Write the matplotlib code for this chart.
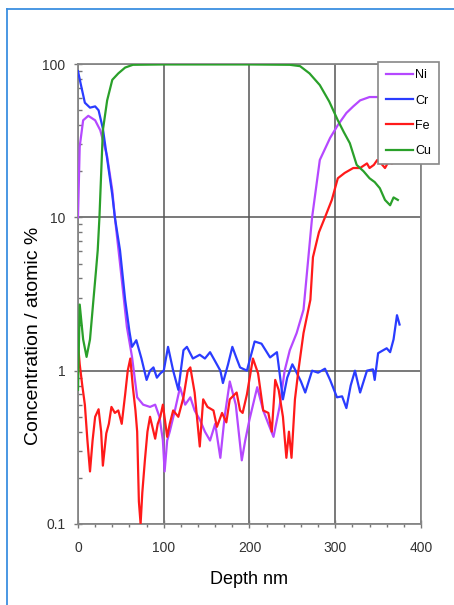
import matplotlib
matplotlib.use('Agg')
import matplotlib.pyplot as plt
from matplotlib.lines import Line2D
from matplotlib.ticker import FixedLocator, NullFormatter, LogLocator
import numpy as np

plt.rcParams['font.family'] = ['Liberation Sans', 'DejaVu Sans']

# depth (nm) and concentration (atomic %)
ni_d = [0, 2, 6, 12, 20, 26, 34, 40, 43, 49, 57, 63, 69, 76, 84, 90, 95, 99, 101, 104,
        107, 113, 119, 125, 131, 136, 142, 148, 154, 160, 166, 171, 177, 184, 191, 195,
        200, 209, 216, 222, 228, 235, 241, 247, 255, 263, 268, 273, 282, 294, 303, 313,
        321, 329, 340, 350, 360, 373]
ni_c = [10, 29, 43, 46, 43, 37, 25, 15, 10, 5.0, 1.93, 1.23, 0.67, 0.6, 0.58, 0.6, 0.5,
        0.35, 0.22, 0.35, 0.4, 0.55, 0.78, 0.6, 0.67, 0.55, 0.48, 0.4, 0.35, 0.45, 0.27,
        0.5, 0.85, 0.6, 0.26, 0.35, 0.48, 0.78, 0.55, 0.45, 0.37, 0.58, 1.0, 1.36, 1.76,
        2.5, 5, 10, 23.7, 33, 40, 48, 53, 58, 61, 61, 61, 61]

cr_d = [0, 3, 8, 14, 20, 24, 29, 35, 40, 43, 49, 55, 60, 63, 68, 74, 80, 84, 88, 92, 96,
        100, 105, 111, 117, 123, 127, 134, 142, 148, 154, 160, 166, 169, 175, 180, 185,
        189, 197, 206, 214, 224, 232, 239, 244, 250, 255, 260, 265, 273, 280, 288, 294,
        302, 308, 313, 318, 323, 329, 337, 344, 346, 350, 355, 360, 364, 368, 372, 375]
cr_c = [90, 75, 56, 52, 53, 50, 38, 22, 14, 10, 6.1, 2.9, 1.8, 1.43, 1.58, 1.2, 0.87,
        1.0, 1.05, 0.9, 0.96, 1.0, 1.43, 1.0, 0.75, 1.36, 1.43, 1.2, 1.27, 1.2, 1.32,
        1.15, 1.0, 0.83, 1.1, 1.43, 1.2, 1.05, 1.0, 1.55, 1.5, 1.22, 1.32, 0.65, 0.9,
        1.1, 0.97, 0.85, 0.72, 1.0, 0.97, 1.03, 0.87, 0.67, 0.68, 0.57, 0.8, 1.0, 0.72,
        1.0, 1.02, 0.87, 1.3, 1.35, 1.4, 1.32, 1.6, 2.3, 2.0]

fe_d = [0, 2, 5, 8, 11, 14, 17, 20, 24, 27, 29, 33, 36, 39, 43, 47, 51, 55, 58, 61, 64,
        67, 69, 71, 73, 75, 78, 81, 84, 90, 93, 96, 99, 104, 107, 111, 117, 123, 128,
        131, 136, 142, 146, 151, 158, 162, 168, 173, 177, 185, 189, 192, 197, 204, 210,
        216, 222, 226, 230, 234, 239, 243, 246, 249, 253, 257, 263, 271, 274, 281, 288,
        296, 303, 311, 321, 329, 337, 340, 345, 349, 352, 358, 362, 366, 370]
fe_c = [1.5, 1.1, 0.8, 0.6, 0.35, 0.22, 0.35, 0.5, 0.56, 0.4, 0.24, 0.39, 0.45, 0.58,
        0.53, 0.55, 0.45, 0.7, 1.0, 1.2, 0.78, 0.55, 0.4, 0.14, 0.1, 0.16, 0.26, 0.4,
        0.5, 0.36, 0.45, 0.5, 0.6, 0.37, 0.45, 0.55, 0.5, 0.67, 1.0, 1.05, 0.72, 0.32,
        0.65, 0.58, 0.55, 0.43, 0.53, 0.46, 0.65, 0.72, 0.55, 0.53, 0.7, 1.2, 0.96,
        0.55, 0.53, 0.4, 0.87, 0.75, 0.5, 0.27, 0.4, 0.27, 0.65, 1.0, 1.76, 2.9, 5.5,
        8, 10, 13, 18, 19.5, 21, 21, 22.5, 21, 22, 23.7, 23, 21, 23, 22.5, 23]

cu_d = [0, 2, 6, 10, 14, 18, 21, 23, 25, 29, 34, 40, 47, 55, 64, 100, 150, 200, 247,
        259, 270, 282, 293, 303, 310, 317, 325, 333, 340, 346, 352, 358, 364, 368, 373]
cu_c = [0.75, 2.7, 1.6, 1.23, 1.6, 2.9, 4.5, 6.1, 10, 37, 58, 79, 87, 95, 99, 99.5,
        99.5, 99.5, 99, 97, 87, 73, 57, 43, 36, 30.5, 22, 20, 18, 17, 15.5, 13, 12,
        13.5, 13]

names = ['Ni', 'Cr', 'Fe', 'Cu']
colours = ['#b548ff', '#2a3cff', '#ff1a1a', '#2aa02a']

fig = plt.figure(figsize=(4.54, 6.05), dpi=100)
ax = fig.add_axes([0.1718, 0.134, 0.7555, 0.76])

for d, c, name, col in zip([ni_d, cr_d, fe_d, cu_d], [ni_c, cr_c, fe_c, cu_c], names, colours):
    ax.plot(d, c, color=col, lw=1.6, label=name, zorder=3)

ax.set_yscale('log')
ax.set_xlim(0, 400)
ax.set_ylim(0.1, 100)

ax.set_xticks([0, 100, 200, 300, 400])
ax.xaxis.set_minor_locator(FixedLocator(np.arange(20, 400, 20)))
ax.set_yticks([0.1, 1, 10, 100])
ax.set_yticklabels(['0.1', '1', '10', '100'])
ax.yaxis.set_minor_locator(LogLocator(base=10, subs=np.arange(2, 10)))
ax.yaxis.set_minor_formatter(NullFormatter())

ax.tick_params(which='major', direction='inout', length=6, width=1, color='#777777',
               labelsize=10, labelcolor='#333333')
ax.tick_params(axis='x', which='minor', direction='out', length=2.5, width=1, color='#777777')
ax.tick_params(axis='y', which='minor', direction='in', length=3, width=1, color='#777777')
ax.tick_params(axis='x', pad=9)
ax.tick_params(axis='y', pad=6)

ax.grid(True, which='major', color='#555555', lw=1.1, zorder=1)
for s in ax.spines.values():
    s.set_color('#888888')
    s.set_linewidth(1.3)

ax.set_xlabel('Depth nm', fontsize=13)
ax.set_ylabel('Concentration / atomic %', fontsize=14)
ax.xaxis.set_label_coords(0.5, -0.102)
ax.yaxis.set_label_coords(-0.105, 0.41)

leg = ax.legend(loc='upper left', bbox_to_anchor=(378 / 454, 1 - 62 / 605),
                bbox_transform=fig.transFigure, borderaxespad=0, fontsize=9,
                handlelength=2.2, handletextpad=0.2, labelspacing=1.05,
                borderpad=0.6, fancybox=False, framealpha=1, edgecolor='#888888')
leg.get_frame().set_linewidth(1.2)
leg.set_zorder(5)

# blue frame round the figure (top and left only show)
fig.add_artist(Line2D([6.5 / 454, 6.5 / 454], [0, 1 - 8.5 / 605], color='#3b8fe0', lw=1.3,
                      transform=fig.transFigure))
fig.add_artist(Line2D([6.5 / 454, 1], [1 - 8.5 / 605, 1 - 8.5 / 605], color='#3b8fe0', lw=1.3,
                      transform=fig.transFigure))

fig.savefig('out.png', dpi=100)
